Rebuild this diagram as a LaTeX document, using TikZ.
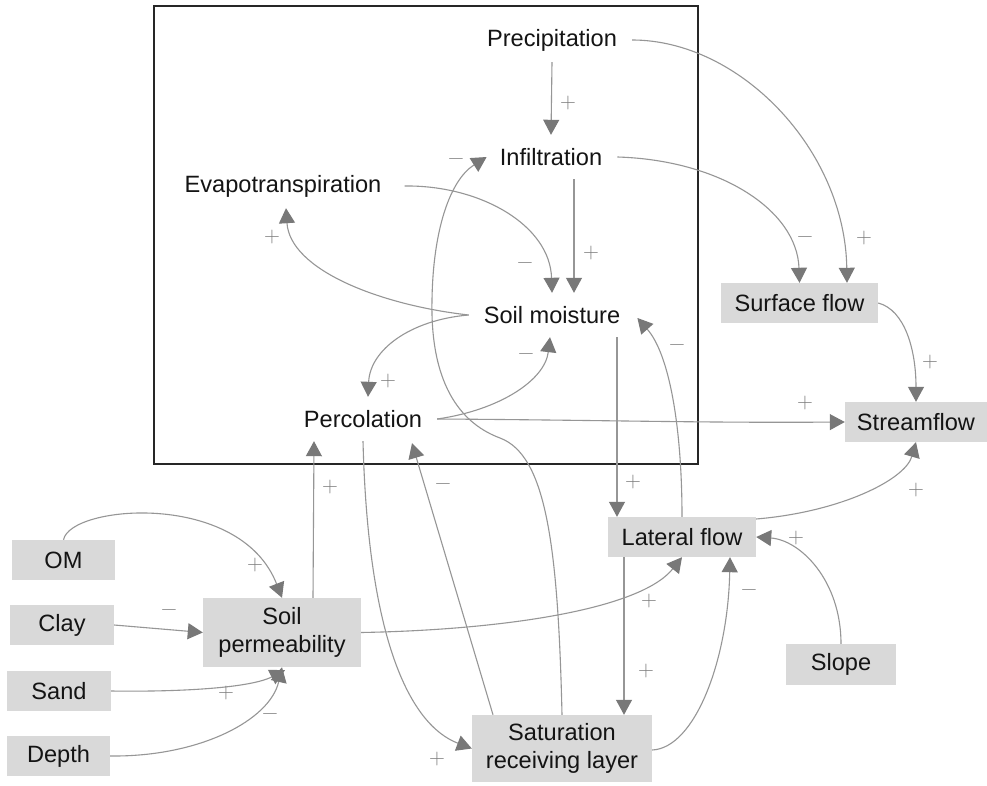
\documentclass[tikz,border=0pt]{standalone}
\usepackage{fontspec}
\newfontfamily\labfont{Liberation Sans}
\usetikzlibrary{arrows.meta}
\definecolor{boxgray}{RGB}{217,217,217}
\definecolor{linegray}{RGB}{150,150,150}
\definecolor{tipgray}{RGB}{120,120,120}
\definecolor{signgray}{RGB}{125,125,125}
\definecolor{txtcol}{RGB}{20,20,20}
\begin{document}
\begin{tikzpicture}[x=1pt,y=-1pt,
  lbl/.style={font=\labfont\fontsize{23.6}{28}\selectfont, text=txtcol, inner xsep=15pt, inner ysep=0pt, minimum height=44pt, align=center},
  box/.style={font=\labfont\fontsize{23.6}{28}\selectfont, text=txtcol, fill=boxgray, inner sep=0pt, align=center},
  conn/.style={draw=linegray, line width=1.1pt, -{Triangle[length=15pt,width=16pt,color=tipgray]}},
  sgn/.style={font=\fontsize{22}{22}\selectfont, text=signgray, inner sep=0pt}]
\useasboundingbox (0,0) rectangle (987,786);
\fill[white] (0,0) rectangle (987,786);
% frame
\draw[line width=1.8pt, black!85] (154,6) rectangle (698,464);

% plain text nodes
\node[lbl] (prec) at (552,40) {Precipitation};
\node[lbl] (infil) at (551,157) {Infiltration};
\node[lbl] (evap) at (283,186) {Evapotranspiration};
\node[lbl] (sm) at (552,315) {Soil moisture};
\node[lbl] (perc) at (363,419) {Percolation};

% boxes
\node[box, minimum width=157pt, minimum height=40pt] (surf) at (799.5,303) {Surface flow};
\node[box, minimum width=142pt, minimum height=40pt] (stream) at (916,422) {Streamflow};
\node[box, minimum width=148pt, minimum height=40pt] (lat) at (682,537) {Lateral flow};
\node[box, minimum width=110pt, minimum height=41pt] (slope) at (841,664.5) {Slope};
\node[box, minimum width=180pt, minimum height=67pt] (sat) at (562,748.5) {Saturation\\receiving layer};
\node[box, minimum width=158pt, minimum height=69pt] (sperm) at (282,632.5) {Soil\\permeability};
\node[box, minimum width=103pt, minimum height=40pt] (om) at (63.5,560) {OM};
\node[box, minimum width=104pt, minimum height=40pt] (clay) at (62,625) {Clay};
\node[box, minimum width=104pt, minimum height=40pt] (sand) at (59,691) {Sand};
\node[box, minimum width=103pt, minimum height=40pt] (depth) at (58.5,756) {Depth};

% connectors
\draw[conn] (prec.south) -- (infil.north);
\draw[conn] (prec.east) .. controls (740,40) and (845,150) .. ([xshift=47.5pt]surf.north);
\draw[conn] (infil.east) .. controls (720,160) and (797,210) .. (surf.north);
\draw[conn] ([xshift=23pt]infil.south) -- ([xshift=22pt]sm.north);
\draw[conn] ([xshift=8pt]evap.east) .. controls (480,185) and (550,225) .. (sm.north);
\draw[conn] (sm.west) .. controls (380,305) and (290,270) .. ([xshift=3pt]evap.south);
\draw[conn] (sm.west) .. controls (410,320) and (370,350) .. ([xshift=5pt]perc.north);
\draw[conn] (perc.east) .. controls (500,410) and (545,380) .. ([xshift=-2pt]sm.south);
\draw[conn] (perc.east) .. controls (600,420) and (700,423) .. (stream.west);
\draw[conn] ([xshift=65pt]sm.south) -- ([xshift=-65pt]lat.north);
\draw[conn] (lat.north) .. controls (682,430) and (670,355) .. ([xshift=2pt,yshift=-3pt]sm.east);
\draw[conn] (surf.east) .. controls (905,310) and (916,350) .. (stream.north);
\draw[conn] ([yshift=18pt]lat.east) .. controls (840,512) and (905,480) .. (stream.south);
\draw[conn] (slope.north) .. controls (841,580) and (800,540) .. (lat.east);
\draw[conn] ([xshift=-58pt]lat.south) -- ([xshift=62pt]sat.north);
\draw[conn] ([yshift=-1.5pt]sat.east) .. controls (695,748) and (728,660) .. ([xshift=48pt]lat.south);
\draw[conn] (sperm.east) .. controls (500,630) and (640,610) .. (lat.south);
\draw[conn] ([xshift=31pt]sperm.north) -- ([xshift=-49pt]perc.south);
\draw[conn] (perc.south) .. controls (368,640) and (410,725) .. (sat.west);
\draw[conn] ([xshift=-69pt]sat.north) -- ([xshift=49pt,yshift=-2pt]perc.south);
\draw[conn] (sat.north) .. controls (558,540) and (545,455) .. (500,438)
   .. controls (465,425) and (430,390) .. (432,300)
   .. controls (433,230) and (450,180) .. ([xshift=2pt]infil.west);
\draw[conn] (om.north) .. controls (70,505) and (240,490) .. (sperm.north);
\draw[conn] (clay.east) -- (sperm.west);
\draw[conn] (sand.east) .. controls (180,692) and (250,688) .. ([xshift=3pt,yshift=-3pt]sperm.south);
\draw[conn] (depth.east) .. controls (200,757) and (270,720) .. (sperm.south);

% signs
\node[sgn] (s1) at (568,103) {+};
\node[sgn] (s2) at (864,238) {+};
\node[sgn] (s3) at (805,240) {−};
\node[sgn] (s4) at (591,253) {+};
\node[sgn] (s5) at (525,266) {−};
\node[sgn] (s6) at (272,237) {+};
\node[sgn] (s7) at (388,381) {+};
\node[sgn] (s8) at (526,357) {−};
\node[sgn] (s9) at (805,403) {+};
\node[sgn] (s10) at (633,482) {+};
\node[sgn] (s11) at (677,348) {−};
\node[sgn] (s12) at (930,362) {+};
\node[sgn] (s13) at (916,490) {+};
\node[sgn] (s14) at (796,538) {+};
\node[sgn] (s15) at (646,671) {+};
\node[sgn] (s16) at (749,593) {−};
\node[sgn] (s17) at (649,601) {+};
\node[sgn] (s18) at (330,487) {+};
\node[sgn] (s19) at (437,759) {+};
\node[sgn] (s20) at (443,487) {−};
\node[sgn] (s21) at (456,162) {−};
\node[sgn] (s22) at (255,565) {+};
\node[sgn] (s23) at (169,613) {−};
\node[sgn] (s24) at (226,693) {+};
\node[sgn] (s25) at (270,717) {−};
\end{tikzpicture}
\end{document}
